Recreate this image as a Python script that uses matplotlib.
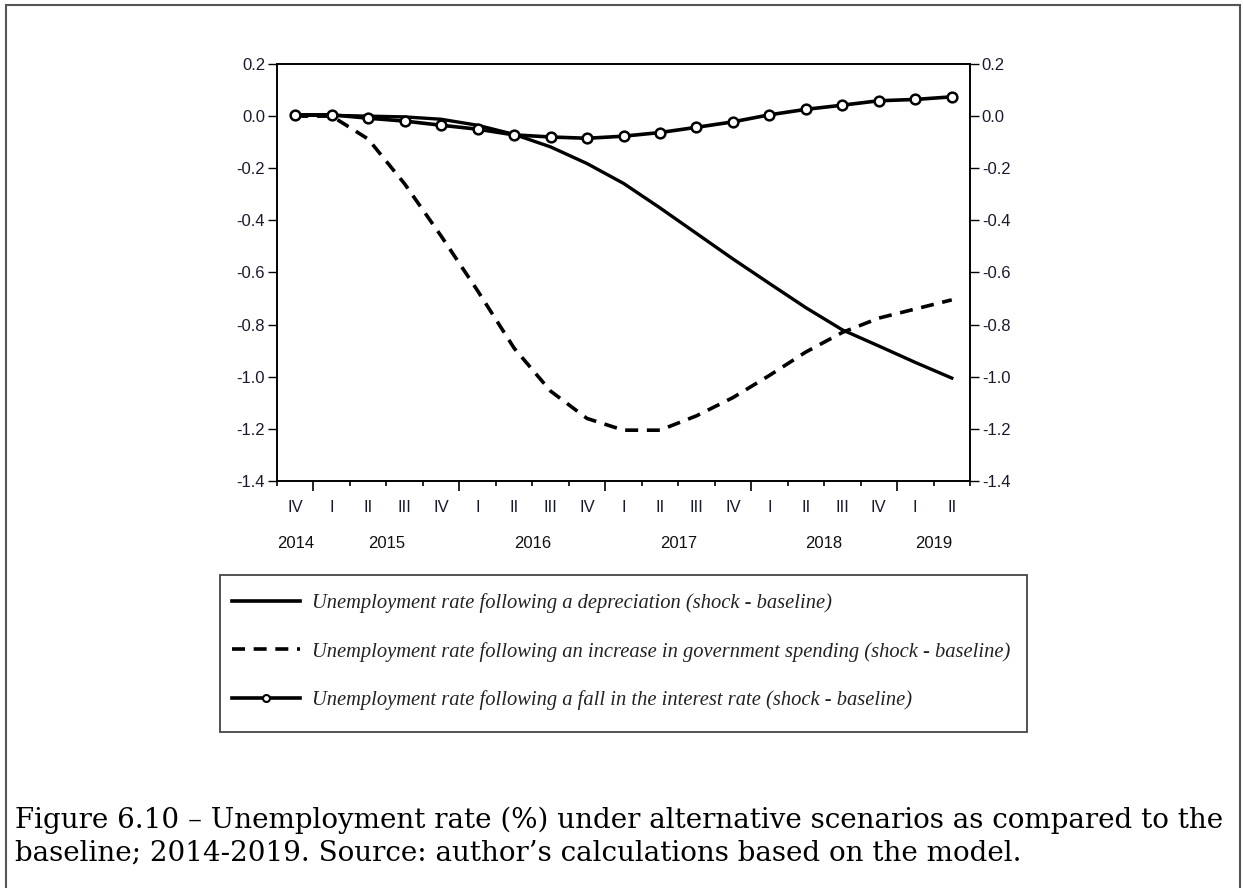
import matplotlib
matplotlib.use("Agg")
import matplotlib.pyplot as plt
from matplotlib.lines import Line2D
from matplotlib.patches import Rectangle
import numpy as np

# quarters 2014Q4 .. 2019Q2
quarters = ["IV", "I", "II", "III", "IV", "I", "II", "III", "IV",
            "I", "II", "III", "IV", "I", "II", "III", "IV", "I", "II"]
years = ["2014", "2015", "2016", "2017", "2018", "2019"]
year_pos = [0, 2.5, 6.5, 10.5, 14.5, 17.5]   # centre of each year's quarters
year_bounds = [0.5, 4.5, 8.5, 12.5, 16.5]

# shock - baseline, unemployment rate (%)
depreciation = [0.003, 0.003, 0.000, -0.003, -0.012, -0.035, -0.070, -0.118, -0.182,
                -0.258, -0.352, -0.450, -0.548, -0.642, -0.735, -0.820, -0.882, -0.945, -1.005]
gov_spending = [0.000, 0.000, -0.088, -0.260, -0.460, -0.670, -0.890, -1.055, -1.160,
                -1.205, -1.205, -1.150, -1.080, -0.995, -0.905, -0.830, -0.775, -0.740, -0.705]
interest_rate = [0.005, 0.005, -0.008, -0.019, -0.035, -0.050, -0.072, -0.080, -0.085,
                 -0.077, -0.063, -0.043, -0.022, 0.005, 0.026, 0.042, 0.059, 0.064, 0.074]

labels = ["Unemployment rate following a depreciation (shock - baseline)",
          "Unemployment rate following an increase in government spending (shock - baseline)",
          "Unemployment rate following a fall in the interest rate (shock - baseline)"]

W, H = 1243, 888
fig = plt.figure(figsize=(W / 100, H / 100), dpi=100)
ax = fig.add_axes([277 / W, 1 - 481 / H, (970 - 277) / W, (481 - 64) / H])

x = np.arange(len(quarters))
ax.plot(x, depreciation, color="black", lw=2.4, solid_joinstyle="round")
ax.plot(x, gov_spending, color="black", lw=2.6, linestyle=(0, (3.6, 2.4)))
ax.plot(x, interest_rate, color="black", lw=2.6, marker="o", ms=7,
        mfc="white", mec="black", mew=1.8)

ax.set_xlim(-0.5, len(quarters) - 0.5)
ax.set_ylim(-1.4, 0.2)
yt = np.round(np.arange(-1.4, 0.21, 0.2), 1)
ylabs = ["%.1f" % (v + 0.0) for v in yt]
ax.set_yticks(yt)
ax.set_yticklabels(ylabs)
ax.tick_params(axis="y", direction="out", length=6.5, width=1, labelsize=12, pad=2)

# x ticks: long at year boundaries, short elsewhere; labels drawn as text
ax.set_xticks(year_bounds)
ax.set_xticklabels([])
ax.set_xticks([b for b in np.arange(-0.5, len(quarters), 1.0) if b not in year_bounds], minor=True)
ax.tick_params(axis="x", which="major", direction="out", length=7.5, width=1.2)
ax.tick_params(axis="x", which="minor", direction="out", length=3.5, width=1.2)

tr = ax.get_xaxis_transform()
for i, q in enumerate(quarters):
    ax.text(i, -27 / 417, q, transform=tr, ha="center", va="center",
            fontsize=12, family="Liberation Sans", color="#1a1a2e")
for p, yr in zip(year_pos, years):
    ax.text(p, -62 / 417, yr, transform=tr, ha="center", va="center",
            fontsize=12, family="Liberation Sans", color="#111111")

ax2 = ax.twinx()
ax2.set_ylim(ax.get_ylim())
ax2.set_yticks(yt)
ax2.set_yticklabels(ylabs)
ax2.tick_params(axis="y", direction="out", length=6.5, width=1, labelsize=12, pad=2)

for a in (ax, ax2):
    for s in a.spines.values():
        s.set_linewidth(1.2)
    for t in a.get_yticklabels():
        t.set_family("Liberation Sans")
        t.set_color("#1a1a2e")

# legend (frame drawn separately so the padding can differ per side)
handles = [Line2D([], [], color="black", lw=2.6),
           Line2D([], [], color="black", lw=2.6, linestyle=(0, (3.6, 2.4))),
           Line2D([], [], color="black", lw=2.6, marker="o", ms=5, mfc="white", mec="black", mew=1.5)]
leg = fig.legend(handles, labels, loc="upper left", bbox_to_anchor=(232 / W, 1 - 593 / H),
                 frameon=False,
                 prop={"family": "Liberation Serif", "style": "italic", "size": 14.8},
                 handlelength=3.3, handletextpad=0.58, borderpad=0, labelspacing=1.4,
                 borderaxespad=0)
for t in leg.get_texts():
    t.set_color("#222222")
fig.patches.append(Rectangle((220 / W, 1 - 732 / H), (1027 - 220) / W, (732 - 575) / H,
                             transform=fig.transFigure, fill=False, edgecolor="#444444", lw=1.3))

# caption
fig.text(15 / W, 1 - 820 / H, "Figure 6.10 \u2013 Unemployment rate (%) under alternative scenarios as compared to the",
         family="DejaVu Serif", fontsize=20, va="center", ha="left")
fig.text(15 / W, 1 - 853 / H, "baseline; 2014-2019. Source: author\u2019s calculations based on the model.",
         family="DejaVu Serif", fontsize=20, va="center", ha="left")

# outer frame
fig.patches.append(Rectangle((6 / W, -0.01), (1240 - 6) / W, 1.01 - 5 / H, transform=fig.transFigure,
                             fill=False, edgecolor="#555555", lw=1.5))

fig.savefig("out.png", dpi=100)
